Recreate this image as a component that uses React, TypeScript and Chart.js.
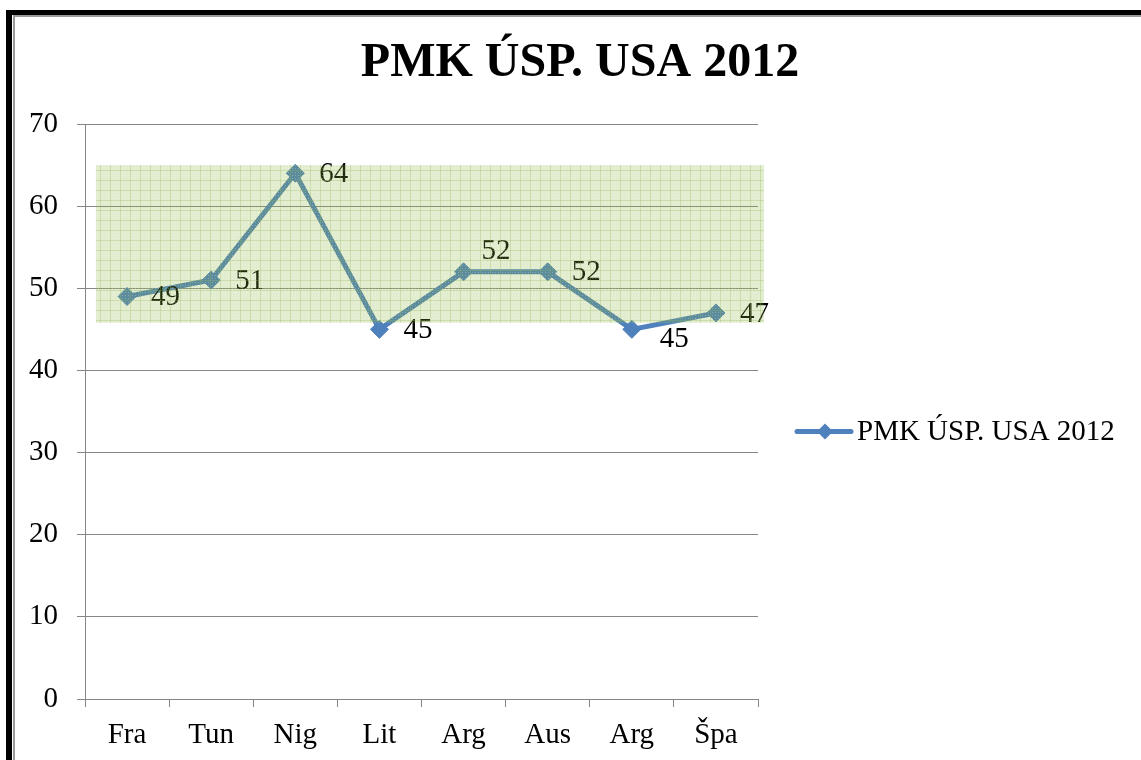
import React, { useEffect, useRef } from "react";
import { Chart, registerables } from "chart.js";

Chart.register(...registerables);

const title = "PMK ÚSP. USA 2012";
const seriesName = "PMK ÚSP. USA 2012";
const categories = ["Fra", "Tun", "Nig", "Lit", "Arg", "Aus", "Arg", "Špa"];
const values = [49, 51, 64, 45, 52, 52, 45, 47];
const yMin = 0;
const yMax = 70;
const yStep = 10;
// highlighted band (value range and category-index range)
const bandValues = [45.8, 65];
const bandCategorySpan = [-0.37, 7.57];

const FONT = "'Liberation Serif', 'Times New Roman', serif";
const BLUE = "#4F81BD";
const GRID = "#868686";
const TEXT_SIZE = 29;

function makePattern(ctx: CanvasRenderingContext2D) {
  const c = document.createElement("canvas");
  c.width = 10;
  c.height = 10;
  const p = c.getContext("2d")!;
  p.fillStyle = "rgba(135,175,55,0.24)";
  p.fillRect(0, 0, 10, 10);
  p.fillStyle = "rgba(150,185,90,0.3)";
  p.fillRect(0, 0, 10, 1);
  p.fillRect(0, 0, 1, 10);
  p.fillStyle = "rgba(255,255,255,0.25)";
  for (let i = 2; i < 10; i += 3) {
    for (let j = 2; j < 10; j += 3) p.fillRect(i, j, 1, 1);
  }
  return ctx.createPattern(c, "repeat");
}

const labelNudge: Record<number, [number, number]> = {
  4: [-6, -21],
  6: [4, 9],
};

const decorPlugin = {
  id: "decor",
  beforeDraw(chart: any) {
    const ctx = chart.ctx as CanvasRenderingContext2D;
    ctx.save();
    ctx.fillStyle = "#ffffff";
    ctx.fillRect(0, 0, chart.width, chart.height);
    ctx.fillStyle = "#000000";
    ctx.fillRect(6, 10, 6, chart.height);
    ctx.fillRect(6, 10, chart.width, 5);
    ctx.fillStyle = "#9a9a9a";
    ctx.fillRect(13, 15, 2, chart.height);
    ctx.fillRect(13, 15, chart.width, 2);
    ctx.restore();
  },
  afterDatasetsDraw(chart: any) {
    const ctx = chart.ctx as CanvasRenderingContext2D;
    const meta = chart.getDatasetMeta(0);
    ctx.save();
    ctx.font = `${TEXT_SIZE}px ${FONT}`;
    ctx.fillStyle = "#000000";
    ctx.textAlign = "left";
    ctx.textBaseline = "middle";
    meta.data.forEach((pt: any, i: number) => {
      const n = labelNudge[i] || [0, 0];
      ctx.fillText(String(values[i]), pt.x + 24 + n[0], pt.y + 1 + n[1]);
    });
    // overlay band
    const xs = chart.scales.x;
    const ys = chart.scales.y;
    const x0 = xs.getPixelForValue(bandCategorySpan[0]);
    const x1 = xs.getPixelForValue(bandCategorySpan[1]);
    const y0 = ys.getPixelForValue(bandValues[1]);
    const y1 = ys.getPixelForValue(bandValues[0]);
    const pat = makePattern(ctx);
    if (pat) {
      ctx.fillStyle = pat;
      ctx.fillRect(x0, y0, x1 - x0, y1 - y0);
    }
    ctx.restore();
  },
  afterDraw(chart: any) {
    const ctx = chart.ctx as CanvasRenderingContext2D;
    const ca = chart.chartArea;
    ctx.save();
    // title
    ctx.font = `bold 48px ${FONT}`;
    ctx.fillStyle = "#000000";
    ctx.textAlign = "center";
    ctx.textBaseline = "middle";
    ctx.fillText(title, (15 + chart.width) / 2 + 2, 64);
    // legend
    const lx = ca.right + 39;
    const ly = (ca.top + ca.bottom) / 2 + 20;
    ctx.strokeStyle = BLUE;
    ctx.lineWidth = 5;
    ctx.lineCap = "round";
    ctx.beginPath();
    ctx.moveTo(lx, ly);
    ctx.lineTo(lx + 54, ly);
    ctx.stroke();
    ctx.fillStyle = BLUE;
    ctx.beginPath();
    const cx = lx + 28;
    ctx.moveTo(cx, ly - 8);
    ctx.lineTo(cx + 8, ly);
    ctx.lineTo(cx, ly + 8);
    ctx.lineTo(cx - 8, ly);
    ctx.closePath();
    ctx.fill();
    ctx.font = `${TEXT_SIZE}px ${FONT}`;
    ctx.fillStyle = "#000000";
    ctx.textAlign = "left";
    ctx.textBaseline = "middle";
    ctx.fillText(seriesName, lx + 60, ly + 1);
    ctx.restore();
  },
};

export default function App() {
  const ref = useRef<HTMLCanvasElement>(null);
  useEffect(() => {
    if (!ref.current) return;
    const chart = new Chart(ref.current, {
      type: "line",
      data: {
        labels: categories,
        datasets: [
          {
            label: seriesName,
            data: values,
            borderColor: BLUE,
            backgroundColor: BLUE,
            borderWidth: 5,
            pointStyle: "rectRot",
            pointRadius: 9,
            pointBackgroundColor: BLUE,
            pointBorderColor: BLUE,
            pointBorderWidth: 1,
            tension: 0,
          },
        ],
      },
      options: {
        animation: false,
        responsive: false,
        devicePixelRatio: 1,
        layout: { padding: { left: 14, top: 124, right: 383, bottom: 0 } },
        plugins: {
          legend: { display: false },
          tooltip: { enabled: false },
          title: { display: false },
        },
        scales: {
          x: {
            type: "category",
            offset: true,
            afterFit: (s: any) => {
              s.height = 61;
            },
            grid: {
              display: true,
              drawOnChartArea: false,
              drawTicks: true,
              tickLength: 8,
              color: GRID,
              offset: true,
            },
            border: { color: GRID, width: 1 },
            ticks: {
              color: "#000000",
              font: { family: FONT, size: TEXT_SIZE },
              padding: 11,
              maxRotation: 0,
            },
          },
          y: {
            type: "linear",
            min: yMin,
            max: yMax,
            afterFit: (s: any) => {
              s.width = 71;
            },
            grid: { color: GRID, tickLength: 8, lineWidth: 1 },
            border: { color: GRID, width: 1 },
            ticks: {
              stepSize: yStep,
              color: "#000000",
              font: { family: FONT, size: TEXT_SIZE },
              padding: 19,
            },
          },
        },
      },
      plugins: [decorPlugin],
    });
    return () => chart.destroy();
  }, []);
  return (
    <div style={{ position: "fixed", left: 0, top: 0, width: 1141, height: 760, background: "#fff" }}>
      <canvas ref={ref} width={1141} height={760} style={{ display: "block" }} />
    </div>
  );
}
